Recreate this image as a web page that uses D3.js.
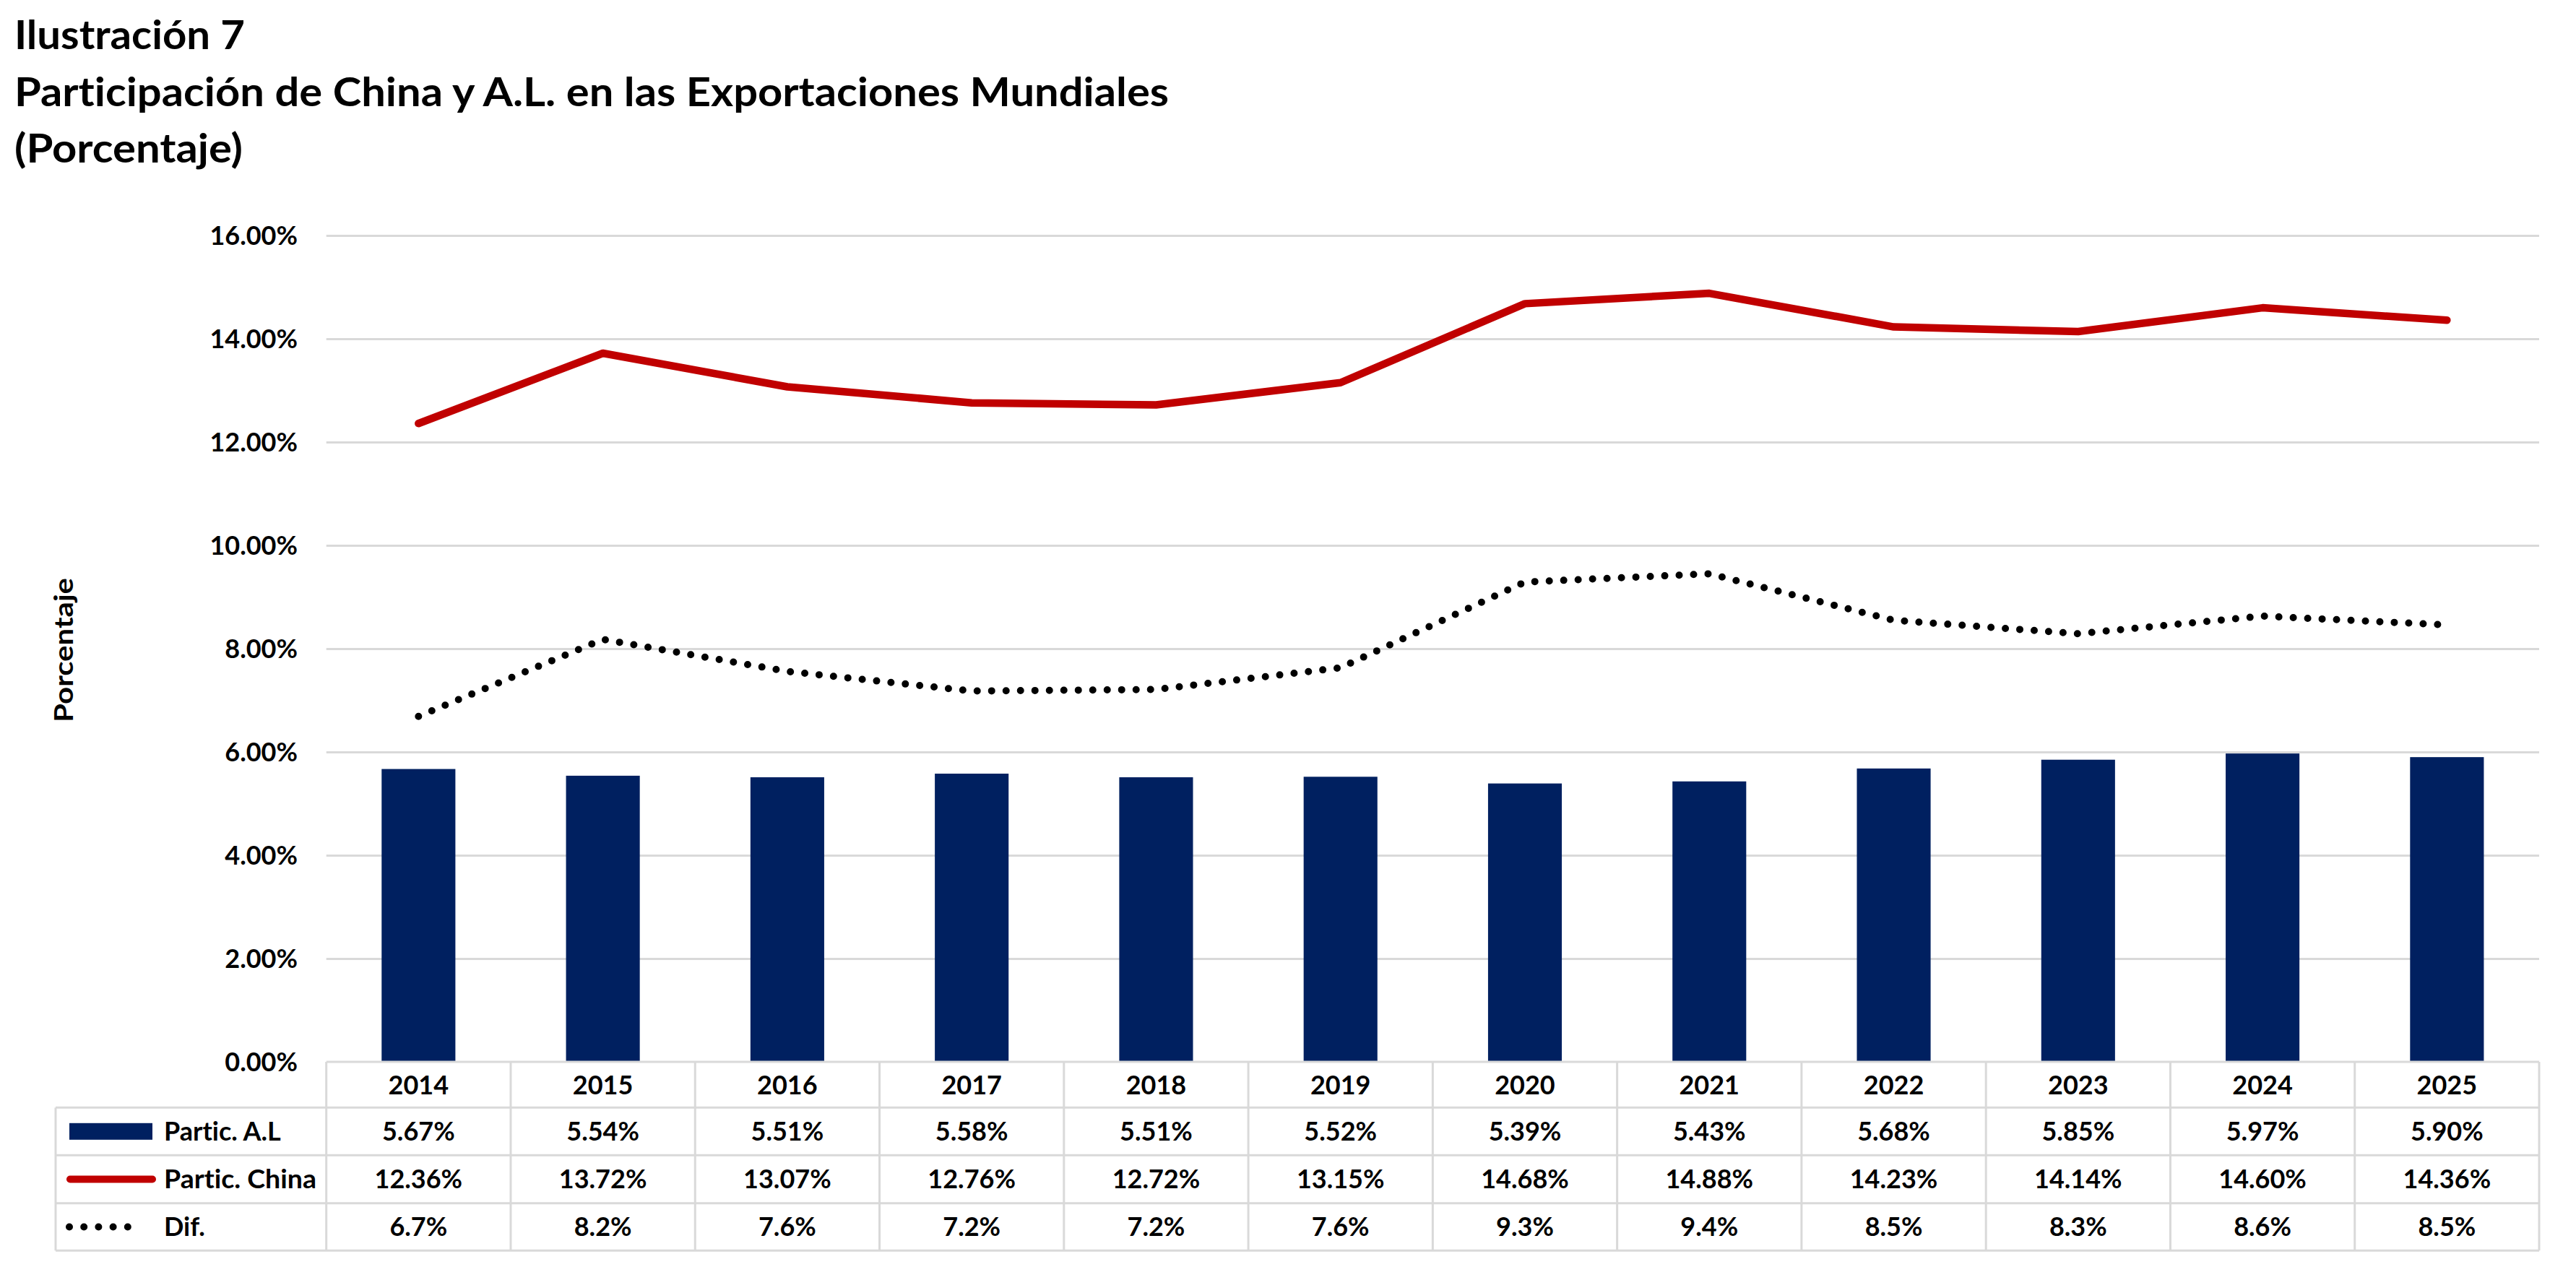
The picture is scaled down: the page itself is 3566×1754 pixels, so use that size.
<!DOCTYPE html>
<html>
<head>
<meta charset="utf-8">
<script src="https://cdn.jsdelivr.net/npm/d3@7/dist/d3.min.js"></script>
<style>
  html, body { margin: 0; padding: 0; background: #ffffff; }
  svg { display: block; }
  text { font-family: Lato, "Open Sans", "Liberation Sans", sans-serif; font-weight: bold; fill: #000;
         font-variant-ligatures: none; font-feature-settings: "liga" 0, "clig" 0; }
</style>
</head>
<body>
<svg id="chart" width="3566" height="1754"></svg>
<script>
// ---------------- data ----------------
const years = ["2014","2015","2016","2017","2018","2019","2020","2021","2022","2023","2024","2025"];
const particAL = [5.67, 5.54, 5.51, 5.58, 5.51, 5.52, 5.39, 5.43, 5.68, 5.85, 5.97, 5.90];
const particChina = [12.36, 13.72, 13.07, 12.76, 12.72, 13.15, 14.68, 14.88, 14.23, 14.14, 14.60, 14.36];
const dif = [6.69, 8.18, 7.56, 7.18, 7.21, 7.63, 9.29, 9.45, 8.55, 8.29, 8.63, 8.46];
const difLabels = ["6.7%","8.2%","7.6%","7.2%","7.2%","7.6%","9.3%","9.4%","8.5%","8.3%","8.6%","8.5%"];
const yTicks = [0, 2, 4, 6, 8, 10, 12, 14, 16];
const seriesNames = ["Partic. A.L", "Partic. China", "Dif."];
const titleLines = ["Ilustración 7", "Participación de China y A.L. en las Exportaciones Mundiales", "(Porcentaje)"];
const yAxisTitle = "Porcentaje";

// ---------------- layout ----------------
const W = 3566, H = 1754;
const plotLeft = 451.7, plotRight = 3515, plotTop = 326, plotBottom = 1470;
const tableLeft = 77;
const rowEdges = [1470, 1533.3, 1599.3, 1665.7, 1731.3];
const fs = 36;              // table / tick font size
const cap = 0.7165 * fs;    // Lato cap height
const gridColor = "#D9D9D9";
const blue = "#002060", red = "#C00000";

const svg = d3.select("#chart");
svg.append("rect").attr("width", W).attr("height", H).attr("fill", "#fff");

const x = d3.scaleBand().domain(years).range([plotLeft, plotRight]).paddingInner(0).paddingOuter(0);
const y = d3.scaleLinear().domain([0, 16]).range([plotBottom, plotTop]);
const cx = d => x(d) + x.bandwidth() / 2;

function fit(sel, target) {
  const node = sel.node();
  const len = node.getComputedTextLength();
  if (len > 0 && Math.abs(len - target) > 1) {
    sel.attr("textLength", target).attr("lengthAdjust", "spacingAndGlyphs");
  }
  return sel;
}

// ---------------- titles ----------------
const titleFs = 55.8;
const titleBaselines = [68.3, 146.7, 224.5];
const titleWidths = [319, 1598, 316];
titleLines.forEach((t, i) => {
  const s = svg.append("text").attr("x", 20).attr("y", titleBaselines[i])
    .attr("font-size", titleFs).text(t);
  fit(s, titleWidths[i]);
});

// ---------------- gridlines + y axis ----------------
const gridAxis = d3.axisLeft(y).tickValues(yTicks.filter(v => v > 0))
  .tickSize(-(plotRight - plotLeft)).tickFormat("");
const gg = svg.append("g").attr("transform", `translate(${plotLeft},0)`).call(gridAxis);
gg.select(".domain").remove();
gg.selectAll("line").attr("stroke", gridColor).attr("stroke-width", 3);

const yAxis = d3.axisLeft(y).tickValues(yTicks).tickSize(0).tickPadding(0)
  .tickFormat(d => d.toFixed(2) + "%");
const ya = svg.append("g").attr("transform", `translate(412,0)`).call(yAxis);
ya.select(".domain").remove();
ya.selectAll("text").attr("font-size", fs).attr("font-family", null)
  .attr("dy", null).attr("y", cap / 2).attr("fill", "#000");

// y-axis title
const yt = svg.append("text")
  .attr("transform", "translate(101,900) rotate(-90)")
  .attr("text-anchor", "middle").attr("font-size", 37).text(yAxisTitle);
fit(yt, 200);

// ---------------- bars ----------------
const barW = x.bandwidth() * 0.4;
svg.append("g").selectAll("rect").data(years).join("rect")
  .attr("x", d => cx(d) - barW / 2)
  .attr("y", (d, i) => y(particAL[i]))
  .attr("width", barW)
  .attr("height", (d, i) => y(0) - y(particAL[i]))
  .attr("fill", blue);

// ---------------- lines ----------------
const lineGen = d3.line().x((d, i) => cx(years[i])).y(d => y(d)).curve(d3.curveLinear);
svg.append("path").datum(particChina).attr("d", lineGen)
  .attr("fill", "none").attr("stroke", red).attr("stroke-width", 10.5)
  .attr("stroke-linecap", "round").attr("stroke-linejoin", "round");
svg.append("path").datum(dif).attr("d", lineGen)
  .attr("fill", "none").attr("stroke", "#000").attr("stroke-width", 10)
  .attr("stroke-linecap", "round").attr("stroke-linejoin", "round")
  .attr("stroke-dasharray", "0 20");

// ---------------- data table ----------------
const tg = svg.append("g").attr("stroke", gridColor).attr("stroke-width", 3);
tg.append("line").attr("x1", plotLeft).attr("x2", plotRight).attr("y1", rowEdges[0]).attr("y2", rowEdges[0]);
rowEdges.slice(1).forEach(ry => {
  tg.append("line").attr("x1", tableLeft).attr("x2", plotRight).attr("y1", ry).attr("y2", ry);
});
const colEdges = years.map(d => x(d)).concat([plotRight]);
colEdges.forEach(cxE => {
  tg.append("line").attr("x1", cxE).attr("x2", cxE).attr("y1", rowEdges[0]).attr("y2", rowEdges[4]);
});
tg.append("line").attr("x1", tableLeft).attr("x2", tableLeft).attr("y1", rowEdges[1]).attr("y2", rowEdges[4]);

const rowCenter = i => (rowEdges[i] + rowEdges[i + 1]) / 2;
const fmt2 = v => v.toFixed(2) + "%";

// header years
svg.append("g").selectAll("text").data(years).join("text")
  .attr("x", d => cx(d)).attr("y", rowCenter(0) + cap / 2)
  .attr("text-anchor", "middle").attr("font-size", fs).text(d => d);

const rows = [particAL.map(fmt2), particChina.map(fmt2), difLabels];
rows.forEach((vals, r) => {
  svg.append("g").selectAll("text").data(vals).join("text")
    .attr("x", (d, i) => cx(years[i])).attr("y", rowCenter(r + 1) + cap / 2)
    .attr("text-anchor", "middle").attr("font-size", fs).text(d => d);
});

// legend keys in table
svg.append("rect").attr("x", 96).attr("width", 115)
  .attr("y", rowCenter(1) - 11.5).attr("height", 23).attr("fill", blue);
svg.append("line").attr("x1", 97).attr("x2", 211)
  .attr("y1", rowCenter(2)).attr("y2", rowCenter(2))
  .attr("stroke", red).attr("stroke-width", 10).attr("stroke-linecap", "round");
svg.append("line").attr("x1", 96).attr("x2", 197)
  .attr("y1", rowCenter(3)).attr("y2", rowCenter(3))
  .attr("stroke", "#000").attr("stroke-width", 10).attr("stroke-linecap", "round")
  .attr("stroke-dasharray", "0 20.2");

const legWidths = [null, 211, null];
seriesNames.forEach((n, r) => {
  const s = svg.append("text").attr("x", 227).attr("y", rowCenter(r + 1) + cap / 2)
    .attr("font-size", fs).text(n);
  if (legWidths[r]) fit(s, legWidths[r]);
});
</script>
</body>
</html>
